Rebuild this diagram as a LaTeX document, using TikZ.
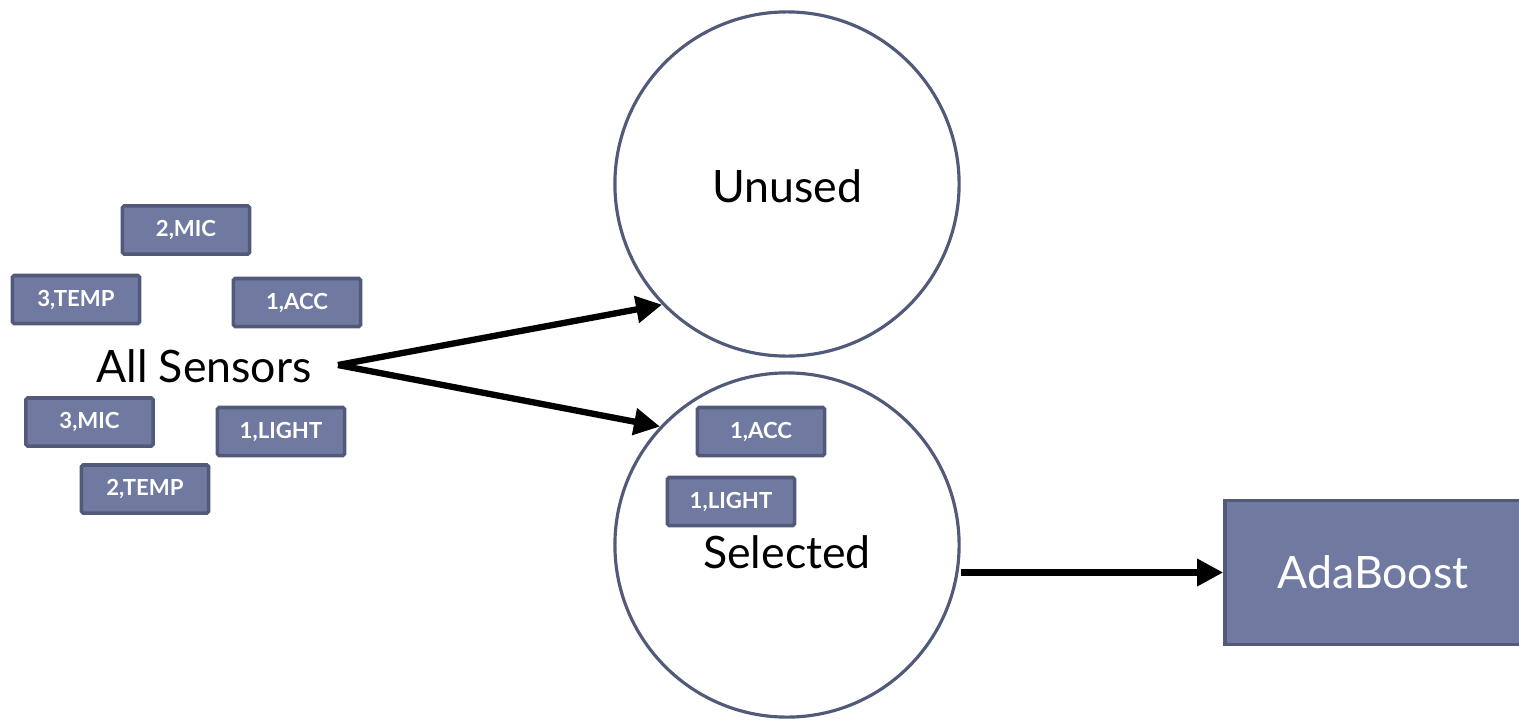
\documentclass[tikz,border=0pt]{standalone}
\usepackage{fontspec}
\setmainfont{Lato}
\usetikzlibrary{arrows.meta,positioning}
\definecolor{boxfill}{RGB}{112,122,160}
\definecolor{boxline}{RGB}{82,90,122}
\tikzset{
  sensor/.style={draw=boxline, fill=boxfill, line width=1pt, rounded corners=0.5pt,
                 minimum width=1.27cm, minimum height=0.48cm, text=white,
                 font=\fontsize{6.3}{7}\selectfont\bfseries},
  pool/.style={circle, draw=boxline, line width=0.9pt, minimum size=3.44cm, inner sep=0pt},
  lbl/.style={font=\fontsize{12.7}{15}\selectfont},
  flowarr/.style={-{Triangle[length=2.6mm,width=2.6mm]}, line width=1.8pt},
}
\begin{document}
\begin{tikzpicture}[x=0.01cm, y=-0.01cm]
    \useasboundingbox (0,0) rectangle (1519,721);
    % the sensor pool
    \node[sensor] (mic2)   at (186,230)   {2,MIC};
    \node[sensor] (temp3)  at (76,299.5)  {3,TEMP};
    \node[sensor] (acc1)   at (297,302.5) {1,ACC};
    \node[lbl]    (sensors) at (204,366)  {All Sensors};
    \node[sensor] (mic3)   at (89.5,422)  {3,MIC};
    \node[sensor] (light1) at (281,431.5) {1,LIGHT};
    \node[sensor] (temp2)  at (145,489)   {2,TEMP};
    % the two groups
    \node[pool] (unused)   at (787,184) {};
    \node[lbl] (unusedlbl) at (787,186) {Unused};
    \node[pool] (selected) at (787,545) {};
    \node[sensor] (selacc)   at (761,431.5) {1,ACC};
    \node[sensor] (sellight) at (731,501.5) {1,LIGHT};
    \node[lbl] (selectedlbl) at (787,552) {Selected};
    % classifier
    \node[draw=boxline, fill=boxfill, line width=1pt, minimum width=2.96cm,
          minimum height=1.44cm, text=white, lbl] (ada) at (1373,572.5) {AdaBoost};
    \coordinate (split) at (338,365);
    \draw[flowarr] (split) -- (unused.224);
    \draw[flowarr] (split) -- (selected.137);
    \draw[flowarr] (selected.east |- ada.west) -- (ada.west);
\end{tikzpicture}
\end{document}
